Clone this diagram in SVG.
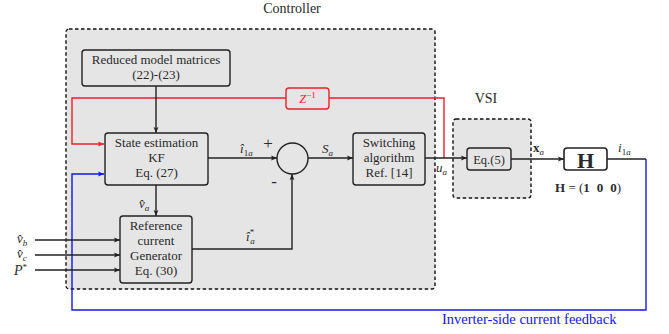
<svg xmlns="http://www.w3.org/2000/svg" width="669" height="334" viewBox="0 0 669 334">
<style>
text{font-family:"Liberation Serif","DejaVu Serif",serif;fill:#2a2a2a}
.bx{fill:#e5e5e5;stroke:#222;stroke-width:1.4}
.dash{fill:#e5e5e5;stroke:#111;stroke-width:1.4;stroke-dasharray:3.5,2.5}
.t{font-size:13px;text-anchor:middle}
.m{font-size:13px;font-style:italic}
.s{font-size:9px;font-style:italic}
.ln{fill:none;stroke:#222;stroke-width:1.4}
.red{fill:none;stroke:#e8222a;stroke-width:1.4}
.blue{fill:none;stroke:#1515f0;stroke-width:1.4}
</style>
<defs>
<marker id="ak" viewBox="0 0 10 10" refX="10" refY="5" markerWidth="6" markerHeight="6" markerUnits="userSpaceOnUse" orient="auto"><path d="M0,1 L10,5 L0,9 L2,5 z" fill="#222"/></marker>
<marker id="ar" viewBox="0 0 10 10" refX="10" refY="5" markerWidth="6" markerHeight="6" markerUnits="userSpaceOnUse" orient="auto"><path d="M0,1 L10,5 L0,9 L2,5 z" fill="#e8222a"/></marker>
<marker id="ab" viewBox="0 0 10 10" refX="10" refY="5" markerWidth="6" markerHeight="6" markerUnits="userSpaceOnUse" orient="auto"><path d="M0,1 L10,5 L0,9 L2,5 z" fill="#1515f0"/></marker>
</defs>

<g id="controller">
<rect class="dash" x="66" y="29" width="369" height="260" rx="3"/>
<text x="292" y="13" style="font-size:14px" text-anchor="middle">Controller</text>
</g>
<g id="vsi">
<rect class="dash" x="453" y="119" width="78" height="79" rx="3"/>
<text x="486" y="103" style="font-size:14px" text-anchor="middle">VSI</text>
</g>

<g id="connectors">
<path class="red" d="M444,158 V98 H72 V144 H104" marker-end="url(#ar)"/>
<path class="blue" d="M646,159 V310 H72 V174 H104" marker-end="url(#ab)"/>
<path class="ln" d="M156,86 V133" marker-end="url(#ak)"/>
<path class="ln" d="M208,158 H277" marker-end="url(#ak)"/>
<path class="ln" d="M308,158 H353" marker-end="url(#ak)"/>
<path class="ln" d="M425,158 H467" marker-end="url(#ak)"/>
<path class="ln" d="M511,159 H564" marker-end="url(#ak)"/>
<path class="ln" d="M607,159 H646"/>
<path class="ln" d="M156,185 V216" marker-end="url(#ak)"/>
<path class="ln" d="M192,249 H292 V174" marker-end="url(#ak)"/>
<path class="ln" d="M35,240 H120" marker-end="url(#ak)"/>
<path class="ln" d="M35,255 H120" marker-end="url(#ak)"/>
<path class="ln" d="M35,270 H120" marker-end="url(#ak)"/>
</g>

<g id="reduced-model">
<rect class="bx" x="82" y="50" width="148" height="36" rx="3"/>
<text class="t" x="156" y="64">Reduced model matrices</text>
<text class="t" x="156" y="79">(22)-(23)</text>
</g>
<g id="z-inv">
<rect x="286" y="88" width="43" height="21" rx="3" fill="#e5e5e5" stroke="#e8222a" stroke-width="1.4"/>
<text x="307.5" y="103" style="font-size:12.5px;font-style:italic;fill:#e8222a" text-anchor="middle">Z<tspan style="font-size:9px;font-style:normal" dy="-5">−1</tspan></text>
</g>
<g id="state-estimation">
<rect class="bx" x="105" y="133" width="103" height="52" rx="3"/>
<text class="t" x="156.5" y="147">State estimation</text>
<text class="t" x="156.5" y="162">KF</text>
<text class="t" x="156.5" y="177">Eq. (27)</text>
</g>
<g id="sum">
<circle cx="292.5" cy="158.5" r="15.5" fill="#e5e5e5" stroke="#222" stroke-width="1.4"/>
<text x="268" y="149" style="font-size:17px" text-anchor="middle">+</text>
<text x="274" y="187" style="font-size:17px" text-anchor="middle">-</text>
</g>
<g id="switching">
<rect class="bx" x="353" y="133" width="72" height="52" rx="3"/>
<text class="t" x="389" y="147">Switching</text>
<text class="t" x="389" y="162">algorithm</text>
<text class="t" x="389" y="177">Ref. [14]</text>
</g>
<g id="eq5">
<rect class="bx" x="467" y="148" width="44" height="22" rx="3"/>
<text class="t" x="489" y="163.5" style="font-size:12.5px">Eq.(5)</text>
</g>
<g id="h-block">
<rect x="564" y="148" width="43" height="22" rx="3" fill="#fff" stroke="#222" stroke-width="1.6"/>
<text x="585.5" y="167.5" style="font-size:22px;font-weight:bold" text-anchor="middle">H</text>
<text x="555" y="192" style="font-size:13px"><tspan font-weight="bold">H</tspan> = (<tspan font-weight="bold">1</tspan><tspan dx="7" font-weight="bold">0</tspan><tspan dx="7" font-weight="bold">0</tspan>)</text>
</g>
<g id="reference">
<rect class="bx" x="120" y="216" width="72" height="67" rx="3"/>
<text class="t" x="156" y="230">Reference</text>
<text class="t" x="156" y="245">current</text>
<text class="t" x="156" y="260">Generator</text>
<text class="t" x="156" y="275">Eq. (30)</text>
</g>

<g id="labels">
<text class="m" x="240" y="153">î<tspan class="s" dy="3" style="font-style:normal">1</tspan><tspan class="s" dy="0">a</tspan></text>
<text class="m" x="322" y="153">S<tspan class="s" dy="3">a</tspan></text>
<text class="m" x="436" y="172">u<tspan class="s" dy="3">a</tspan></text>
<text x="533" y="152" style="font-size:13px;font-weight:bold">x<tspan class="s" dy="3" style="font-weight:normal">a</tspan></text>
<text class="m" x="618" y="152">i<tspan class="s" dy="3" style="font-style:normal">1</tspan><tspan class="s">a</tspan></text>
<text class="m" x="139" y="208">v̂<tspan class="s" dy="3">a</tspan></text>
<text class="m" x="246" y="241">î<tspan class="s" dy="-6" style="font-style:normal">*</tspan><tspan class="s" dx="-4" dy="9">a</tspan></text>
<text class="m" x="17" y="243">v̂<tspan class="s" dy="3">b</tspan></text>
<text class="m" x="17" y="258">v̂<tspan class="s" dy="3">c</tspan></text>
<text class="m" x="14" y="275" style="font-size:14px">P<tspan style="font-size:9px;font-style:normal" dy="-5">*</tspan></text>
<text x="442" y="324" style="font-size:14.5px;fill:#1515f0">Inverter-side current feedback</text>
</g>
</svg>
